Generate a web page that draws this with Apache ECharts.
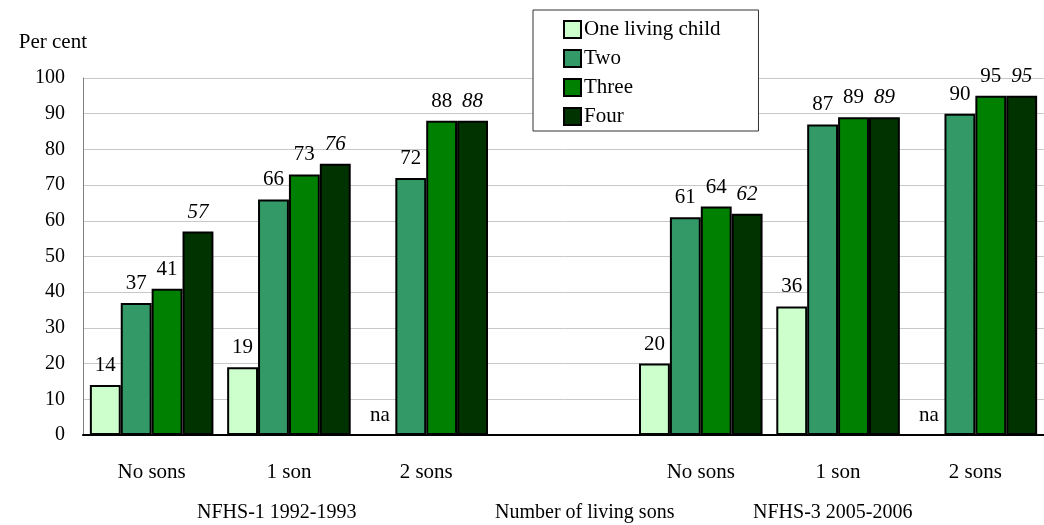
<!DOCTYPE html>
<html>
<head>
<meta charset="utf-8">
<script src="https://cdn.jsdelivr.net/npm/echarts@6/dist/echarts.min.js"></script>
<style>
  html, body { margin: 0; padding: 0; background: #fff; }
  #container { width: 1044px; height: 525px; }
</style>
</head>
<body>
<div id="container"></div>
<script>
var categories = ['No sons', '1 son', '2 sons', '', 'No sons', '1 son', '2 sons'];
var seriesNames = ['One living child', 'Two', 'Three', 'Four'];
// 'na' = not applicable, null = no bar
var oneChild = [14, 19, 'na', null, 20, 36, 'na'];
var two = [37, 66, 72, null, 61, 87, 90];
var three = [41, 73, 88, null, 64, 89, 95];
var four = [57, 76, 88, null, 62, 89, 95];
var yTicks = [0, 100, 10];
var colors = ['#CCFFCC', '#339966', '#008000', '#003300'];

var FONT = 'Liberation Serif';

var dom = document.getElementById('container');
var myChart = echarts.init(dom, null, { renderer: 'canvas' });

function toItems(arr) {
    return arr.map(function (v) {
        if (v === 'na') {
            return {
                value: 0,
                itemStyle: { borderWidth: 0 },
                label: { formatter: 'na' }
            };
        }
        return v;
    });
}

function makeSeries(name, arr, idx, italic) {
    return {
        name: name,
        type: 'bar',
        data: toItems(arr),
        barGap: '0%',
        barCategoryGap: '10%',
        itemStyle: {
            color: colors[idx],
            borderColor: '#000',
            borderWidth: 2
        },
        label: {
            show: true,
            position: 'top',
            distance: 9,
            color: '#000',
            fontFamily: FONT,
            fontSize: 21,
            fontStyle: italic ? 'italic' : 'normal'
        }
    };
}

var option = {
    backgroundColor: '#fff',
    animation: false,
    textStyle: { fontFamily: FONT },
    grid: { left: 83, right: 0, top: 78, bottom: 90, containLabel: false },
    legend: {
        orient: 'vertical',
        left: 533,
        top: 10,
        padding: [9, 38, 4, 30],
        itemGap: 8,
        itemWidth: 17,
        itemHeight: 17,
        backgroundColor: '#fff',
        borderColor: '#333',
        borderWidth: 1,
        borderRadius: 0,
        icon: 'rect',
        itemStyle: { borderColor: '#000', borderWidth: 2 },
        textStyle: { fontFamily: FONT, fontSize: 21, color: '#000', padding: [0, 0, 0, -2] },
        data: seriesNames
    },
    xAxis: {
        type: 'category',
        data: categories,
        axisTick: { show: false },
        axisLine: { lineStyle: { color: '#000', width: 2 } },
        axisLabel: {
            color: '#000',
            fontFamily: FONT,
            fontSize: 21,
            margin: 27,
            interval: 0
        }
    },
    yAxis: {
        type: 'value',
        min: yTicks[0],
        max: yTicks[1],
        interval: yTicks[2],
        name: 'Per cent',
        nameLocation: 'end',
        nameGap: 25,
        nameTextStyle: { color: '#000', fontFamily: FONT, fontSize: 21, align: 'right', padding: [0, -4, 0, 0] },
        axisLine: { show: true, lineStyle: { color: '#808080', width: 1 } },
        axisTick: { show: false },
        axisLabel: { color: '#000', fontFamily: FONT, fontSize: 20, margin: 18 },
        splitLine: { lineStyle: { color: '#c8c8c8', width: 1 } }
    },
    graphic: [
        { type: 'text', left: 197, top: 503, style: { text: 'NFHS-1 1992-1993', font: '20px "Liberation Serif"', fill: '#000' } },
        { type: 'text', left: 495, top: 503, style: { text: 'Number of living sons', font: '20px "Liberation Serif"', fill: '#000' } },
        { type: 'text', left: 753, top: 503, style: { text: 'NFHS-3 2005-2006', font: '20px "Liberation Serif"', fill: '#000' } }
    ],
    series: [
        makeSeries(seriesNames[0], oneChild, 0, false),
        makeSeries(seriesNames[1], two, 1, false),
        makeSeries(seriesNames[2], three, 2, false),
        makeSeries(seriesNames[3], four, 3, true)
    ]
};

myChart.setOption(option);
window.addEventListener('resize', myChart.resize);
</script>
</body>
</html>
